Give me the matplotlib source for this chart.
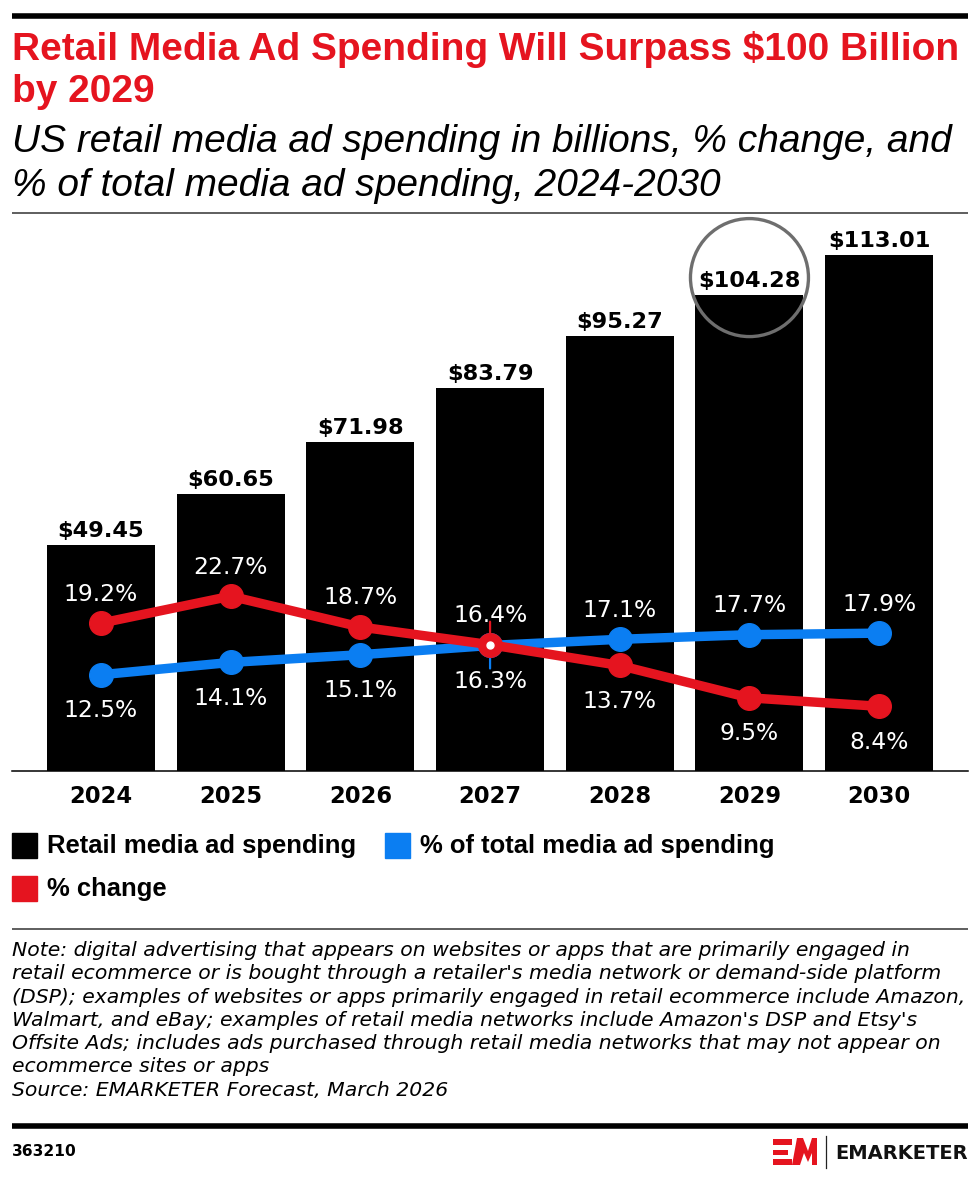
import matplotlib
matplotlib.use("Agg")
import matplotlib.pyplot as plt
from matplotlib.patches import Rectangle, Circle, Polygon
from matplotlib.transforms import IdentityTransform

# ---------------- data ----------------
years = ["2024", "2025", "2026", "2027", "2028", "2029", "2030"]
spending = [49.45, 60.65, 71.98, 83.79, 95.27, 104.28, 113.01]
pct_change = [19.2, 22.7, 18.7, 16.4, 13.7, 9.5, 8.4]
pct_total = [12.5, 14.1, 15.1, 16.3, 17.1, 17.7, 17.9]
spend_labels = ["$49.45", "$60.65", "$71.98", "$83.79", "$95.27", "$104.28", "$113.01"]

title_lines = ["Retail Media Ad Spending Will Surpass $100 Billion", "by 2029"]
subtitle_lines = ["US retail media ad spending in billions, % change, and",
                  "% of total media ad spending, 2024-2030"]
note_lines = [
    "Note: digital advertising that appears on websites or apps that are primarily engaged in",
    "retail ecommerce or is bought through a retailer's media network or demand-side platform",
    "(DSP); examples of websites or apps primarily engaged in retail ecommerce include Amazon,",
    "Walmart, and eBay; examples of retail media networks include Amazon's DSP and Etsy's",
    "Offsite Ads; includes ads purchased through retail media networks that may not appear on",
    "ecommerce sites or apps",
    "Source: EMARKETER Forecast, March 2026",
]
legend_labels = ["Retail media ad spending", "% of total media ad spending", "% change"]
chart_id = "363210"
brand = "EMARKETER"

RED = "#e5141f"
BLUE = "#0b7ef2"
BLACK = "#000000"

W, H = 980, 1180
FONT = "Liberation Sans"
WIDE = "DejaVu Sans"
plt.rcParams["font.family"] = [FONT, "DejaVu Sans"]

fig = plt.figure(figsize=(W / 100, H / 100), dpi=100)
fig.patch.set_facecolor("white")


def fx(x):
    return x / W


def fy(y):
    return 1 - y / H


renderer = fig.canvas.get_renderer()


def fit(t, target):
    bb = t.get_window_extent(renderer)
    t.set_fontsize(t.get_fontsize() * target / bb.width)


def hline(y, x0, x1, lw, color="black"):
    fig.add_artist(plt.Line2D([fx(x0), fx(x1)], [fy(y), fy(y)], lw=lw, color=color,
                              transform=fig.transFigure, solid_capstyle="butt"))


# ---------------- header ----------------
hline(15.5, 12, 968, 4.0)
t = fig.text(fx(12), fy(60), title_lines[0], color=RED, fontsize=27, fontweight="bold",
             ha="left", va="baseline")
fit(t, 946)
fs_title = t.get_fontsize()
fig.text(fx(12), fy(102), title_lines[1], color=RED, fontsize=fs_title, fontweight="bold",
         ha="left", va="baseline")
t = fig.text(fx(12), fy(152), subtitle_lines[0], color="black", fontsize=20, fontstyle="italic",
             ha="left", va="baseline")
fit(t, 936)
fs_sub = t.get_fontsize()
fig.text(fx(12), fy(196), subtitle_lines[1], color="black", fontsize=fs_sub, fontstyle="italic",
         ha="left", va="baseline")
hline(213, 12, 968, 1.1, "#333333")

# ---------------- chart ----------------
ax = fig.add_axes([fx(12), fy(771), fx(968) - fx(12), fy(215) - fy(771)])
ax.set_facecolor("none")
x = list(range(len(years)))
ax.bar(x, spending, width=0.833, color=BLACK, zorder=1)
ax.set_xlim(-0.686, 6.685)
ax.set_ylim(0, 121.7)
for s in ["top", "right", "left"]:
    ax.spines[s].set_visible(False)
ax.spines["bottom"].set_linewidth(1.1)
ax.set_yticks([])
ax.set_xticks(x)
ax.set_xticklabels([])
ax.tick_params(axis="x", length=0)
for i, yr in enumerate(years):
    ax.annotate(yr, (i, 0), xytext=(0, -32), textcoords="offset pixels", ha="center",
                va="baseline", fontsize=16.3, fontweight="bold", family=WIDE,
                annotation_clip=False)

for i, (v, lab) in enumerate(zip(spending, spend_labels)):
    ax.annotate(lab, (i, v), xytext=(0, 8), textcoords="offset pixels", ha="center",
                va="baseline", fontsize=16.2, fontweight="bold", family=WIDE, color="black",
                annotation_clip=False)

ax2 = ax.twinx()
ax2.set_ylim(0, 72.2)
ax2.set_axis_off()
ax2.plot(x, pct_total, color=BLUE, lw=6.8, marker="o", ms=17, zorder=2,
         solid_capstyle="round")
ax2.plot(x, pct_change, color=RED, lw=6.8, marker="o", ms=17, zorder=3,
         solid_capstyle="round")

# overlapping point in 2027: connector ticks and white dot
k = 3
ax2.annotate("", xy=(k, pct_change[k]), xytext=(0, 23), textcoords="offset pixels",
             arrowprops=dict(arrowstyle="-", color=RED, lw=1.6, shrinkA=0, shrinkB=0), zorder=2.5)
ax2.annotate("", xy=(k, pct_total[k]), xytext=(0, -23), textcoords="offset pixels",
             arrowprops=dict(arrowstyle="-", color=BLUE, lw=1.6, shrinkA=0, shrinkB=0), zorder=2.5)
ax2.plot([k], [pct_change[k]], "o", color="white", ms=5, zorder=4)

UP, DOWN = 22.5, -42.5
for i in x:
    red_up = i <= 3
    ax2.annotate(f"{pct_change[i]}%", (i, pct_change[i]), xytext=(0, UP if red_up else DOWN),
                 textcoords="offset pixels", ha="center", va="baseline", color="white",
                 fontsize=16.8, family=WIDE, zorder=5)
    ax2.annotate(f"{pct_total[i]}%", (i, pct_total[i]), xytext=(0, DOWN if red_up else UP),
                 textcoords="offset pixels", ha="center", va="baseline", color="white",
                 fontsize=16.8, family=WIDE, zorder=5)

# highlight circle around 2029 label
fig.canvas.draw()
cx, cy = ax.transData.transform((5, spending[5]))
circ = Circle((cx, cy + 17), 59, transform=IdentityTransform(), fill=False,
              ec="#6e6e6e", lw=2.4, zorder=10)
fig.add_artist(circ)

# ---------------- legend ----------------
fig.add_artist(Rectangle((fx(12), fy(858)), fx(25), 25 / H, color=BLACK, transform=fig.transFigure))
fig.add_artist(Rectangle((fx(385), fy(858)), fx(25), 25 / H, color=BLUE, transform=fig.transFigure))
fig.add_artist(Rectangle((fx(12), fy(901)), fx(25), 25 / H, color=RED, transform=fig.transFigure))
t = fig.text(fx(47), fy(846), legend_labels[0], fontsize=17, fontweight="bold", ha="left",
             va="center")
fit(t, 310)
fs_leg = t.get_fontsize()
fig.text(fx(420), fy(846), legend_labels[1], fontsize=fs_leg, fontweight="bold", ha="left",
         va="center")
fig.text(fx(47), fy(889), legend_labels[2], fontsize=fs_leg, fontweight="bold", ha="left",
         va="center")

# ---------------- notes ----------------
hline(929, 12, 968, 1.1, "#333333")
t = fig.text(fx(12), fy(956), note_lines[0], fontsize=14, fontstyle="italic", family=WIDE,
             ha="left", va="baseline")
fit(t, 903)
fs_note = t.get_fontsize()
for j, line in enumerate(note_lines[1:], start=1):
    fig.text(fx(12), fy(956 + 23.3 * j), line, fontsize=fs_note, fontstyle="italic",
             family=WIDE, ha="left", va="baseline")

# ---------------- footer ----------------
hline(1126, 12, 968, 4.0)
t = fig.text(fx(12), fy(1152), chart_id, fontsize=11.5, fontweight="bold", family=WIDE,
             ha="left", va="center")
fit(t, 65)

# logo mark
e_bars = [(773, 1139, 792, 1145), (773, 1150, 788, 1155), (773, 1159, 792, 1165)]
for (x0, y0, x1, y1) in e_bars:
    fig.add_artist(Rectangle((fx(x0), fy(y1)), fx(x1 - x0), (y1 - y0) / H, color=RED,
                             transform=fig.transFigure, lw=0))
m_pts = [(792, 1165), (797, 1138), (803, 1138), (808, 1151), (812, 1138), (817, 1138),
         (817, 1165), (812, 1165), (812, 1153), (808, 1162), (804, 1153), (800, 1165)]
fig.add_artist(Polygon([(fx(a), fy(b)) for a, b in m_pts], closed=True, color=RED, lw=0,
                       transform=fig.transFigure))
fig.add_artist(plt.Line2D([fx(826), fx(826)], [fy(1136), fy(1168)], lw=0.9, color="#222222",
                          transform=fig.transFigure))
t = fig.text(fx(835), fy(1159), brand, fontsize=13.5, fontweight="bold", family=WIDE,
             ha="left", va="baseline", color="#111111")
fit(t, 133)

fig.savefig("out.png", dpi=100, facecolor="white")
